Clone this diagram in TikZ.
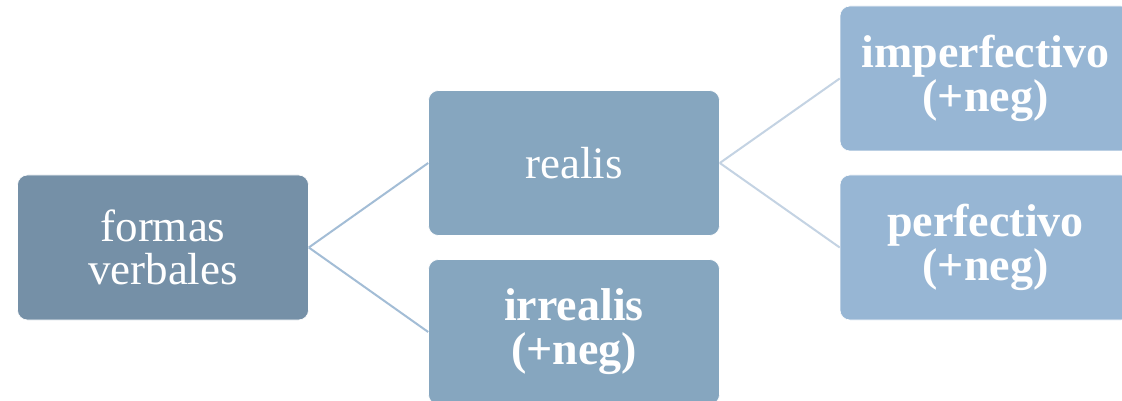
\documentclass[tikz,border=0pt]{standalone}
\usepackage{fontspec}
\setmainfont{Liberation Serif}
\definecolor{rootfill}{HTML}{7590A7}
\definecolor{midfill}{HTML}{86A6BF}
\definecolor{leaffill}{HTML}{97B6D4}
\definecolor{linkA}{HTML}{A3BDD6}
\definecolor{linkB}{HTML}{C4D3E3}
\tikzset{
  box/.style={rectangle, rounded corners=10pt, draw=white, line width=0.6pt,
    minimum width=291pt, minimum height=145pt, inner sep=0pt, align=center,
    text=white, font=\fontsize{45}{43}\selectfont},
  boldbox/.style={box, font=\fontsize{46}{44}\selectfont\bfseries},
  link/.style={line width=2pt}
}
\begin{document}
\begin{tikzpicture}[x=1pt, y=-1pt]
  \clip (0,0) rectangle (1122,401);
  \fill[white] (0,0) rectangle (1122,401);
  % tree nodes
  \node[box, fill=rootfill] (formas) at (163,247.5) {formas\\verbales};
  \node[box, fill=midfill] (realis) at (574,163) {realis};
  \node[boldbox, fill=midfill] (irrealis) at (574,332) {irrealis\\(+neg)};
  \node[boldbox, fill=leaffill] (imperf) at (985.5,78.5) {imperfectivo\\(+neg)};
  \node[boldbox, fill=leaffill] (perf) at (985.5,247.5) {perfectivo\\(+neg)};
  % branches
  \draw[link, linkA] (formas.east) -- (realis.west);
  \draw[link, linkA] (formas.east) -- (irrealis.west);
  \draw[link, linkB] (realis.east) -- (imperf.west);
  \draw[link, linkB] (realis.east) -- (perf.west);
\end{tikzpicture}
\end{document}
